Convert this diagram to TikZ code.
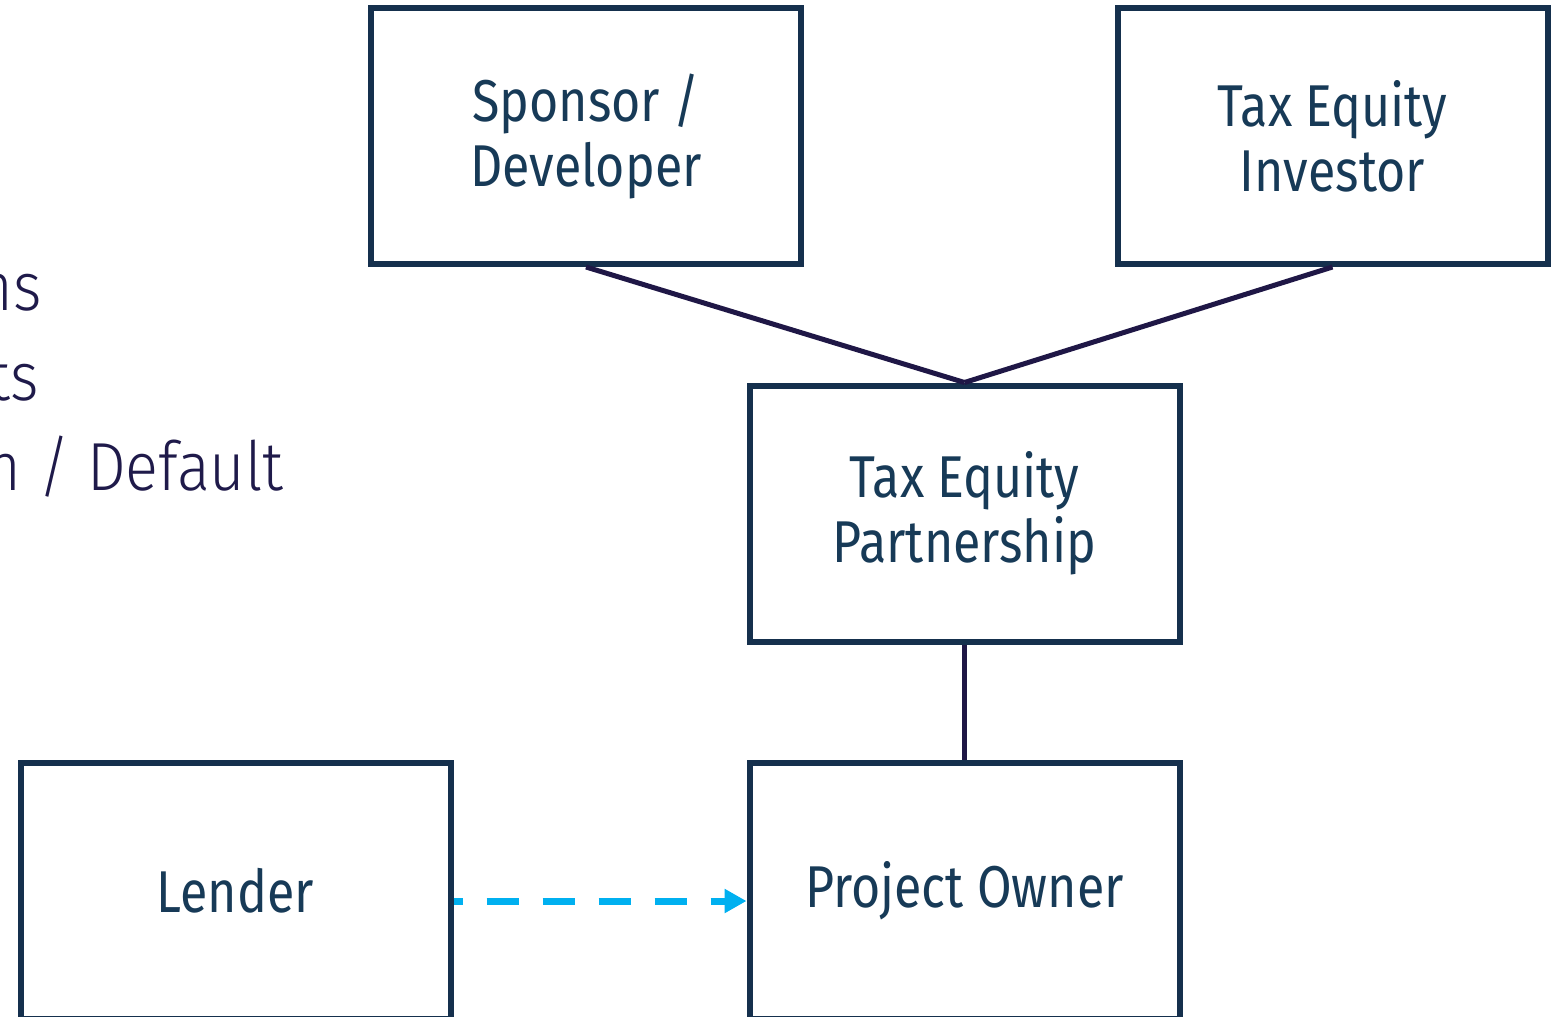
\documentclass[tikz,border=0pt]{standalone}
\usepackage{fontspec}
\setmainfont{Fira Sans}[FakeStretch=0.85]
\newfontfamily\lightfont{Fira Sans Light}[FakeStretch=0.9]
\usetikzlibrary{arrows.meta}
\definecolor{boxline}{HTML}{15304D}
\definecolor{boxtext}{HTML}{173A57}
\definecolor{link}{HTML}{1F1746}
\definecolor{loan}{HTML}{00B0F0}
\definecolor{notetext}{HTML}{1F1A4A}
\begin{document}
\begin{tikzpicture}[x=0.5pt,y=-0.5pt,
  entity/.style={draw=boxline, line width=3pt, minimum width=215pt, minimum height=128pt,
    inner sep=0pt, align=center, text=boxtext, font=\fontsize{29.5}{32.5}\selectfont},
  tie/.style={draw=link, line width=2.5pt},
  loanline/.style={draw=loan, line width=3.5pt, dash pattern=on 16pt off 12pt, dash phase=11.5pt,
    -{Triangle[length=11pt,width=11.5pt]}},
  note/.style={anchor=base east, text=notetext, inner sep=0pt,
    font=\lightfont\fontsize{34}{40}\selectfont}]
\useasboundingbox (0,0) rectangle (1563,1017);

% parties
\node[entity] (sponsor) at (586,136) {Sponsor /\\Developer};
\node[entity] (investor) at (1332.5,136) {Tax Equity\\Investor};
\node[entity] (partnership) at (964.5,513.5) {Tax Equity\\Partnership};
\node[entity] (owner) at (964.5,891) {Project Owner};
\node[entity] (lender) at (235.5,891) {Lender};

% ownership links
\draw[tie] (sponsor.south) -- (partnership.north);
\draw[tie] (investor.south) -- (partnership.north);
\draw[tie] (partnership.south) -- (owner.north);

% loan
\draw[loanline] ([yshift=-5pt]lender.east) -- ([yshift=-5pt]owner.west);

% legend text running off the left edge
\node[note] (n1) at (42,310) {ns};
\node[note] (n2) at (39,400) {ts};
\node[note] (n3) at (284,490) {n / Default};
\end{tikzpicture}
\end{document}
